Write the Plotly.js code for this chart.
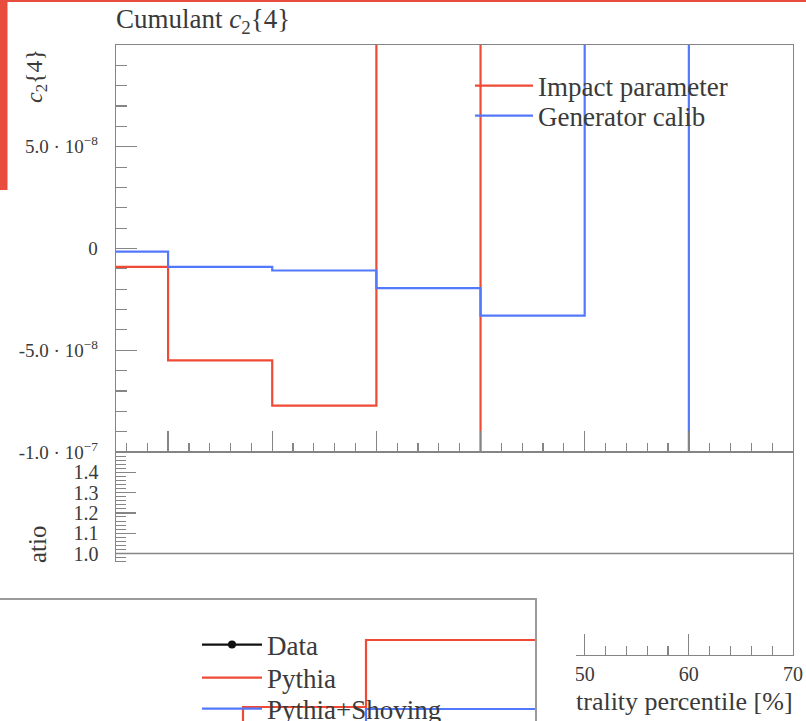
<!DOCTYPE html>
<html>
<head>
<meta charset="utf-8">
<script src="https://cdn.plot.ly/plotly-3.0.1.min.js"></script>
<style>html,body{margin:0;padding:0;background:#fff;}#chart{width:806px;height:721px;}</style>
</head>
<body>
<div id="chart"></div>
<script>
// ---------------- data ----------------
// main panel: bin edges (centrality percentile) and cumulant values per bin
const binEdges = [5, 10, 20, 30, 40, 50, 60, 70];
const impactParameter = [-0.9e-8, -5.5e-8, -7.72e-8, 2.5e-7, -3.2e-7, -4.1e-7, -2.6e-7];
const generatorCalib = [-0.15e-8, -0.9e-8, -1.08e-8, -1.95e-8, -3.3e-8, 1.8e-7, -2.9e-7];
const seriesNames = ["Impact parameter", "Generator calib"];

// y tick labels of main panel
const mainTickVals = [-1e-7, -5e-8, 0, 5e-8];
const mainTickText = ["-1.0 · 10<sup>−7</sup>", "-5.0 · 10<sup>−8</sup>", "0", "5.0 · 10<sup>−8</sup>"];
// ratio panel ticks (visible part)
const ratioTickVals = [1.0, 1.1, 1.2, 1.3, 1.4];
const ratioTickText = ["1.0", "1.1", "1.2", "1.3", "1.4"];
// x ticks
const mainXTickVals = [10, 20, 30, 40, 50, 60];
const xTickVals = [50, 60, 70];
const xTickText = ["50", "60", "70"];

// overlapping second chart (partially visible, bottom-left)
const overlayEdges = [0, 20, 30, 50];
const overlayPythia = [-0.6, 0.14, 0.81];
const overlayShoving = [-0.5, -0.5, 0.12];
const overlayData = [null];
const overlayNames = ["Data", "Pythia", "Pythia+Shoving"];

// ---------------- helpers ----------------
const W = 806, H = 721;
const px = v => v / W;
const py = v => 1 - v / H;
const stepY = arr => arr.concat([arr[arr.length - 1]]);

const RED = '#ef4a36';
const BLUE = '#5478fb';
const AX = '#858585';
const TXT = '#3a3a3a';
const FONT = 'Liberation Serif, serif';

const traces = [
  {x: binEdges, y: stepY(impactParameter), name: seriesNames[0], type: 'scatter', mode: 'lines',
   line: {shape: 'hv', color: RED, width: 2.2}, xaxis: 'x', yaxis: 'y', legend: 'legend'},
  {x: binEdges, y: stepY(generatorCalib), name: seriesNames[1], type: 'scatter', mode: 'lines',
   line: {shape: 'hv', color: BLUE, width: 2.2}, xaxis: 'x', yaxis: 'y', legend: 'legend2'},
  // mask subplot (white background covering part of the chart)
  {x: [], y: [], type: 'scatter', mode: 'lines', xaxis: 'x3', yaxis: 'y3', showlegend: false, hoverinfo: 'skip'},
  // overlapping chart
  {x: overlayData, y: overlayData, name: overlayNames[0], type: 'scatter', mode: 'lines+markers',
   line: {color: '#111', width: 2.2}, marker: {color: '#111', size: 8}, xaxis: 'x4', yaxis: 'y4', legend: 'legend3'},
  {x: overlayEdges, y: stepY(overlayPythia), name: overlayNames[1], type: 'scatter', mode: 'lines',
   line: {shape: 'hv', color: RED, width: 2.2}, xaxis: 'x4', yaxis: 'y4', legend: 'legend4'},
  {x: overlayEdges, y: stepY(overlayShoving), name: overlayNames[2], type: 'scatter', mode: 'lines',
   line: {shape: 'hv', color: BLUE, width: 2.2}, xaxis: 'x4', yaxis: 'y4', legend: 'legend5'}
];

const baseAxis = {
  showline: true, mirror: true, linecolor: AX, linewidth: 1.4,
  showgrid: false, zeroline: false, ticks: 'inside', tickcolor: AX, tickwidth: 1.3,
  tickfont: {family: FONT, size: 19, color: TXT}
};

const legendBase = {
  bgcolor: 'rgba(0,0,0,0)', borderwidth: 0,
  font: {family: FONT, size: 27, color: TXT},
  xref: 'paper', yref: 'paper', xanchor: 'left', yanchor: 'middle', tracegroupgap: 0
};
const mkLegend = (x, y, iw) => Object.assign({}, legendBase, {x: px(x), y: py(y), itemwidth: iw});

const layout = {
  width: W, height: H, autosize: false,
  margin: {l: 0, r: 0, t: 0, b: 0, pad: 0, autoexpand: false},
  paper_bgcolor: '#fff', plot_bgcolor: '#fff',
  showlegend: true,
  title: {text: 'Cumulant <i>c</i><sub>2</sub>{4}', x: px(116), xanchor: 'left', xref: 'paper',
          y: py(19), yanchor: 'middle', font: {family: FONT, size: 27, color: TXT}, automargin: false},
  xaxis: Object.assign({}, baseAxis, {
    domain: [px(116), px(793)], range: [5, 70], anchor: 'y',
    tickmode: 'array', tickvals: mainXTickVals, ticklen: 21, showticklabels: false,
    minor: {dtick: 2, tick0: 0, ticks: 'inside', ticklen: 9, tickcolor: AX, tickwidth: 1.2}
  }),
  yaxis: Object.assign({}, baseAxis, {
    domain: [py(452), py(45)], range: [-1e-7, 1e-7], anchor: 'x',
    tickmode: 'array', tickvals: mainTickVals, ticktext: mainTickText, ticklen: 21,
    ticklabelstandoff: 13,
    minor: {dtick: 1e-8, tick0: 0, ticks: 'inside', ticklen: 11, tickcolor: AX, tickwidth: 1.2}
  }),
  xaxis2: Object.assign({}, baseAxis, {
    domain: [px(116), px(793)], range: [5, 70], anchor: 'y2',
    tickmode: 'array', tickvals: xTickVals, ticktext: xTickText, ticklen: 21,
    ticklabelstandoff: 1, tickfont: {family: FONT, size: 20, color: TXT},
    minor: {dtick: 2, tick0: 0, ticks: 'inside', ticklen: 9, tickcolor: AX, tickwidth: 1.2}
  }),
  yaxis2: Object.assign({}, baseAxis, {
    domain: [py(655), py(452)], range: [0.5, 1.5], anchor: 'x2',
    tickmode: 'array', tickvals: ratioTickVals, ticktext: ratioTickText, ticklen: 20,
    ticklabelstandoff: 12, tickfont: {family: FONT, size: 20, color: TXT},
    minor: {dtick: 0.02, tick0: 0, ticks: 'inside', ticklen: 10, tickcolor: AX, tickwidth: 1}
  }),
  xaxis3: {domain: [0, px(576)], range: [0, 1], anchor: 'y3', visible: false},
  yaxis3: {domain: [0, py(562)], range: [0, 1], anchor: 'x3', visible: false},
  xaxis4: {domain: [0, px(535)], range: [0.244, 43.74], anchor: 'y4', side: 'top',
           showline: true, linecolor: '#9a9a9a', linewidth: 1.6, ticks: '', showticklabels: false,
           showgrid: false, zeroline: false},
  yaxis4: {domain: [0, py(600)], range: [0, 1.21], anchor: 'x4', side: 'right',
           showline: true, linecolor: '#9a9a9a', linewidth: 1.6, ticks: '', showticklabels: false,
           showgrid: false, zeroline: false},
  legend: mkLegend(470, 86, 58),
  legend2: mkLegend(470, 116, 58),
  legend3: mkLegend(197, 645, 60),
  legend4: mkLegend(197, 678, 60),
  legend5: mkLegend(197, 709, 60),
  annotations: [
    {text: '<i>c</i><sub>2</sub>{4}', textangle: -90, xref: 'paper', yref: 'paper',
     x: px(36), y: py(76), xanchor: 'center', yanchor: 'middle', showarrow: false,
     font: {family: FONT, size: 24, color: TXT}},
    {text: 'atio', textangle: -90, xref: 'paper', yref: 'paper',
     x: px(37), y: py(544), xanchor: 'center', yanchor: 'middle', showarrow: false,
     font: {family: FONT, size: 25, color: TXT}},
    {text: 'trality percentile [%]', xref: 'paper', yref: 'paper',
     x: px(795), y: py(701), xanchor: 'right', yanchor: 'middle', showarrow: false,
     font: {family: FONT, size: 26, color: TXT}}
  ],
  shapes: [
    {type: 'line', xref: 'x2 domain', yref: 'y2', x0: 0, x1: 1, y0: 1, y1: 1,
     line: {color: AX, width: 1.4}, layer: 'below'},
    {type: 'rect', xref: 'paper', yref: 'paper', x0: 0, x1: px(7.5), y0: py(190), y1: 1,
     fillcolor: '#e84c3d', line: {width: 0}, layer: 'above'},
    {type: 'rect', xref: 'paper', yref: 'paper', x0: 0, x1: 1, y0: py(2), y1: 1,
     fillcolor: '#e84c3d', line: {width: 0}, layer: 'above'}
  ]
};

Plotly.newPlot('chart', traces, layout, {staticPlot: true, displayModeBar: false});
</script>
</body>
</html>
